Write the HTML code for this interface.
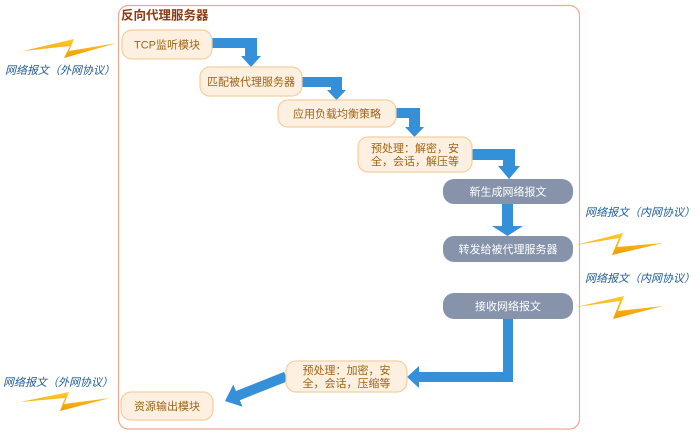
<!DOCTYPE html>
<html>
<head>
<meta charset="utf-8">
<style>
html,body{margin:0;padding:0;background:#fff;}
svg{display:block;}
text{font-family:"Liberation Sans","Noto Sans CJK SC",sans-serif;}
.pn{fill:#fdf0e1;stroke:#f4cf9f;stroke-width:1.2;}
.pt{fill:#9c6414;font-size:11px;text-anchor:middle;}
.gn{fill:#8693ab;}
.gt{fill:#ffffff;font-size:11px;text-anchor:middle;}
.lb{fill:#1d5b98;font-size:11px;font-style:italic;}
.ar{fill:#3590da;}
.bolt{fill:url(#bg);}
</style>
</head>
<body>
<svg width="700" height="433" viewBox="0 0 700 433" xmlns="http://www.w3.org/2000/svg">
<defs>
<linearGradient id="bg" x1="0" y1="0" x2="0" y2="1">
<stop offset="0" stop-color="#ffcc2e"/>
<stop offset="1" stop-color="#f29a00"/>
</linearGradient>
<linearGradient id="pg" x1="0" y1="0" x2="0" y2="1">
<stop offset="0" stop-color="#fff6ec"/>
<stop offset="1" stop-color="#fde9d3"/>
</linearGradient>
</defs>

<!-- container -->
<rect x="118.5" y="5.5" width="461" height="423.5" rx="10" ry="10" fill="#fff" stroke="#f0a890" stroke-width="1.2"/>
<text x="121" y="19.5" font-size="12.5" font-weight="bold" fill="#8b3a12">反向代理服务器</text>

<!-- bolts -->
<polygon class="bolt" points="23,51 74,39 69,51 117,43 64,58 70,46"/>
<polygon class="bolt" points="20,402 69,392 64,404 110,398 60,411 65,398"/>
<polygon class="bolt" points="576,245 623,233 617,247 663,243 612,255 619,238"/>
<polygon class="bolt" points="576,307 624,296 618,311 663,306 613,319 620,301"/>

<!-- labels -->
<text class="lb" x="5" y="74">网络报文（外网协议）</text>
<text class="lb" x="3" y="386">网络报文（外网协议）</text>
<text class="lb" x="585" y="216">网络报文（内网协议）</text>
<text class="lb" x="585" y="282">网络报文（内网协议）</text>

<!-- arrows -->
<polygon class="ar" points="212,38 257,38 257,56 261,56 251,67 241,56 245,56 245,48 212,48"/>
<polygon class="ar" points="302,77 342,77 342,90 346,90 336.5,100 327,90 331,90 331,87 302,87"/>
<polygon class="ar" points="396,108 420,108 420,127 424,127 414.5,137 405,127 409,127 409,118 396,118"/>
<polygon class="ar" points="472,149 515,149 515,166 520,166 509,179 498,166 503,166 503,160 472,160"/>
<polygon class="ar" points="502,204 513,204 513,226 523,226 507.5,236 492,226 502,226"/>
<polygon class="ar" points="503,318 513,318 513,382 419,382 419,388 407,377 419,366 419,372 503,372"/>
<polygon class="ar" points="284.1,371.9 236,391 233.3,384.5 225,401 242.5,406.7 239.8,400.2 287.9,381.1"/>

<!-- peach nodes -->
<rect class="pn" x="122" y="30" width="90" height="29" rx="10" fill="url(#pg)"/>
<text class="pt" x="167" y="48.5">TCP监听模块</text>

<rect class="pn" x="200" y="67" width="102" height="29" rx="10"/>
<text class="pt" x="251" y="85.5">匹配被代理服务器</text>

<rect class="pn" x="278" y="100" width="118" height="27" rx="10"/>
<text class="pt" x="337" y="117.5">应用负载均衡策略</text>

<rect class="pn" x="358" y="137" width="114" height="35" rx="10"/>
<text class="pt" x="415" y="152">预处理：解密，安</text>
<text class="pt" x="415" y="165">全，会话，解压等</text>

<rect class="pn" x="286" y="361" width="121" height="31" rx="10"/>
<text class="pt" x="346.5" y="374">预处理：加密，安</text>
<text class="pt" x="346.5" y="387">全，会话，压缩等</text>

<rect class="pn" x="121" y="392" width="92" height="28" rx="10"/>
<text class="pt" x="167" y="410">资源输出模块</text>

<!-- gray nodes -->
<rect class="gn" x="443" y="179" width="130" height="25" rx="11"/>
<text class="gt" x="508" y="195.5">新生成网络报文</text>

<rect class="gn" x="443" y="236" width="130" height="26" rx="11"/>
<text class="gt" x="508" y="253">转发给被代理服务器</text>

<rect class="gn" x="443" y="293" width="130" height="26" rx="11"/>
<text class="gt" x="508" y="310">接收网络报文</text>
</svg>
</body>
</html>
